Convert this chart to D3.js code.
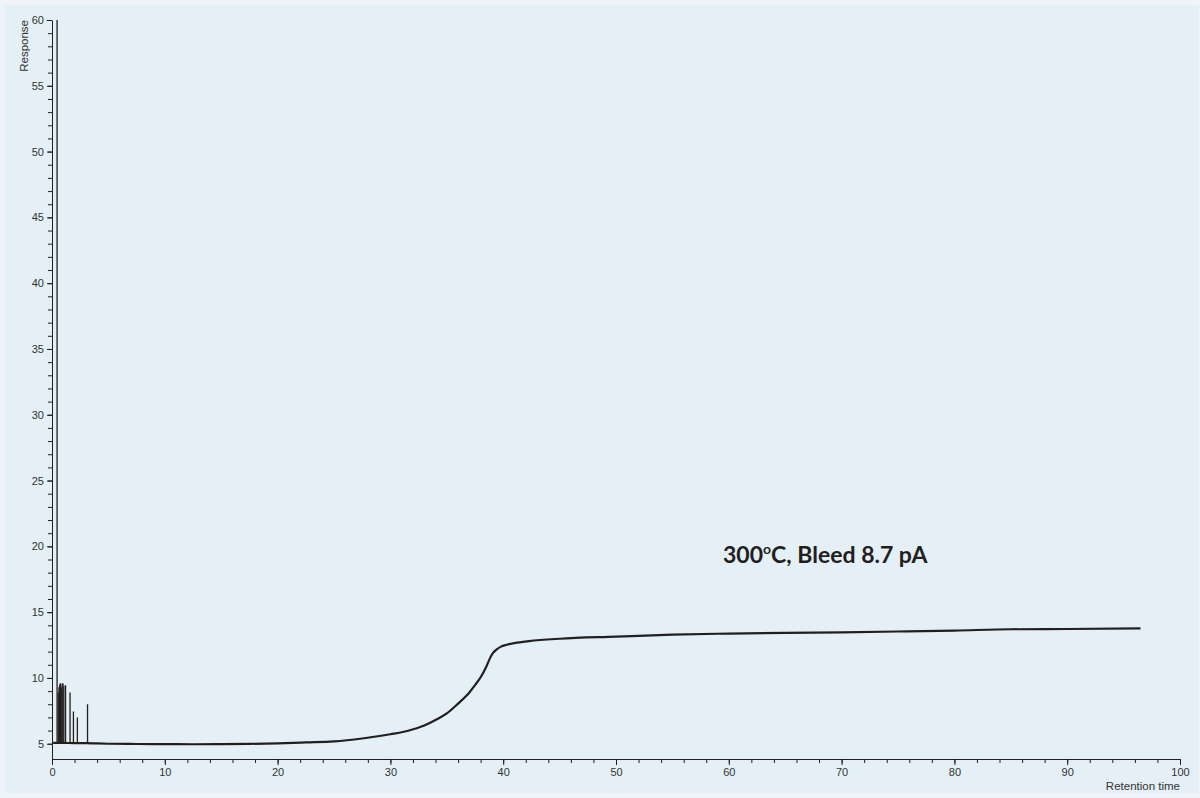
<!DOCTYPE html>
<html>
<head>
<meta charset="utf-8">
<script src="https://cdn.jsdelivr.net/npm/d3@7"></script>
<style>
  body { margin: 0; background: #eef4f8; }
  svg { display: block; }
  .axis text { font-family: "Liberation Sans", Arial, sans-serif; font-size: 11px; fill: #333; }
  .axis path, .axis line { stroke: #231f20; }
</style>
</head>
<body>
<div id="chart"></div>
<script>
// baseline trace (retention time in min, response)
const traceTimes = [0.1, 1, 2, 3, 4, 5, 7.5, 10, 12.5, 15, 17.5, 20, 22.5, 25, 27.5, 30, 31.5, 33, 34, 35, 36, 37, 37.5, 38, 38.5, 38.8, 39.1, 39.4, 39.8, 40.3, 41, 42.3, 45, 50, 55, 60, 65, 70, 75, 80, 85, 90, 96.5];
const traceValues = [5.06, 5.06, 5.05, 5.05, 5.02, 5.0, 4.98, 4.97, 4.96, 4.97, 4.99, 5.03, 5.1, 5.18, 5.4, 5.72, 5.97, 6.38, 6.8, 7.3, 8.05, 8.9, 9.45, 10.05, 10.85, 11.45, 11.9, 12.15, 12.38, 12.52, 12.65, 12.8, 12.98, 13.14, 13.29, 13.37, 13.43, 13.47, 13.53, 13.6, 13.7, 13.72, 13.77];

// early solvent / impurity peaks
const spikeTimes = [0.45, 0.55, 0.62, 0.68, 0.75, 0.82, 0.9, 0.97, 1.05, 1.2, 1.6, 1.9, 2.25, 3.15];
const spikeValues = [60, 8.9, 9.3, 9.5, 9.6, 9.3, 9.55, 9.6, 9.4, 9.45, 8.9, 7.45, 7.0, 8.0];

const xMajor = [0, 10, 20, 30, 40, 50, 60, 70, 80, 90, 100];
const yMajor = [5, 10, 15, 20, 25, 30, 35, 40, 45, 50, 55, 60];

const width = 1200, height = 798;
const margin = { top: 20, right: 20, bottom: 39, left: 52 };

const svg = d3.select("#chart")
  .append("svg")
  .attr("width", width)
  .attr("height", height);

svg.append("rect")
  .attr("x", 5).attr("y", 5)
  .attr("width", width - 6).attr("height", height - 10)
  .attr("fill", "#e4eff6");

const x = d3.scaleLinear().domain([0, 100]).range([margin.left, width - margin.right]);
// 60 sits at the top, 5 at y=744, axis foot a bit below 5
const y = d3.scaleLinear().domain([3.84, 60]).range([height - margin.bottom, margin.top]);

// minor ticks
svg.append("g")
  .attr("class", "axis")
  .attr("transform", `translate(0,${height - margin.bottom})`)
  .call(d3.axisBottom(x).tickValues(d3.range(0, 101, 2)).tickSize(4).tickFormat(""))
  .call(g => g.select(".domain").remove());

svg.append("g")
  .attr("class", "axis")
  .attr("transform", `translate(${margin.left},0)`)
  .call(d3.axisLeft(y).tickValues(d3.range(5, 61, 1)).tickSize(4).tickFormat(""))
  .call(g => g.select(".domain").remove());

// major ticks
svg.append("g")
  .attr("class", "axis")
  .attr("transform", `translate(0,${height - margin.bottom})`)
  .call(d3.axisBottom(x).tickValues(xMajor).tickSize(6).tickPadding(3).tickSizeOuter(0));

svg.append("g")
  .attr("class", "axis")
  .attr("transform", `translate(${margin.left},0)`)
  .call(d3.axisLeft(y).tickValues(yMajor).tickSize(5).tickPadding(3).tickSizeOuter(0));

// axis titles
svg.append("text")
  .attr("transform", `translate(28,${margin.top}) rotate(-90)`)
  .attr("text-anchor", "end")
  .style("font-family", "Liberation Sans, Arial, sans-serif")
  .style("font-size", "11.5px")
  .style("fill", "#333")
  .text("Response");

svg.append("text")
  .attr("x", x(100))
  .attr("y", 790)
  .attr("text-anchor", "end")
  .style("font-family", "Liberation Sans, Arial, sans-serif")
  .style("font-size", "11.5px")
  .style("fill", "#333")
  .text("Retention time");

// spikes
svg.append("g")
  .selectAll("line")
  .data(spikeTimes.map((t, i) => ({ t: t, v: spikeValues[i] })))
  .enter()
  .append("line")
  .attr("x1", d => x(d.t))
  .attr("x2", d => x(d.t))
  .attr("y1", y(5.05))
  .attr("y2", d => y(d.v))
  .attr("stroke", "#231f20")
  .attr("stroke-width", 1.3);

// baseline trace
const line = d3.line()
  .x(d => x(d[0]))
  .y(d => y(d[1]))
  .curve(d3.curveMonotoneX);

svg.append("path")
  .datum(traceTimes.map((t, i) => [t, traceValues[i]]))
  .attr("d", line)
  .attr("fill", "none")
  .attr("stroke", "#231f20")
  .attr("stroke-width", 2.2);

// annotation
const note = svg.append("text")
  .attr("x", 723)
  .attr("y", 563)
  .style("font-family", "Lato, 'Open Sans', sans-serif")
  .style("font-weight", "bold")
  .style("font-size", "23px")
  .style("fill", "#231f20");
note.append("tspan").text("300");
note.append("tspan").style("font-size", "14px").attr("dy", -9).text("o");
note.append("tspan").attr("dy", 9).text("C, Bleed 8.7 pA");
</script>
</body>
</html>
